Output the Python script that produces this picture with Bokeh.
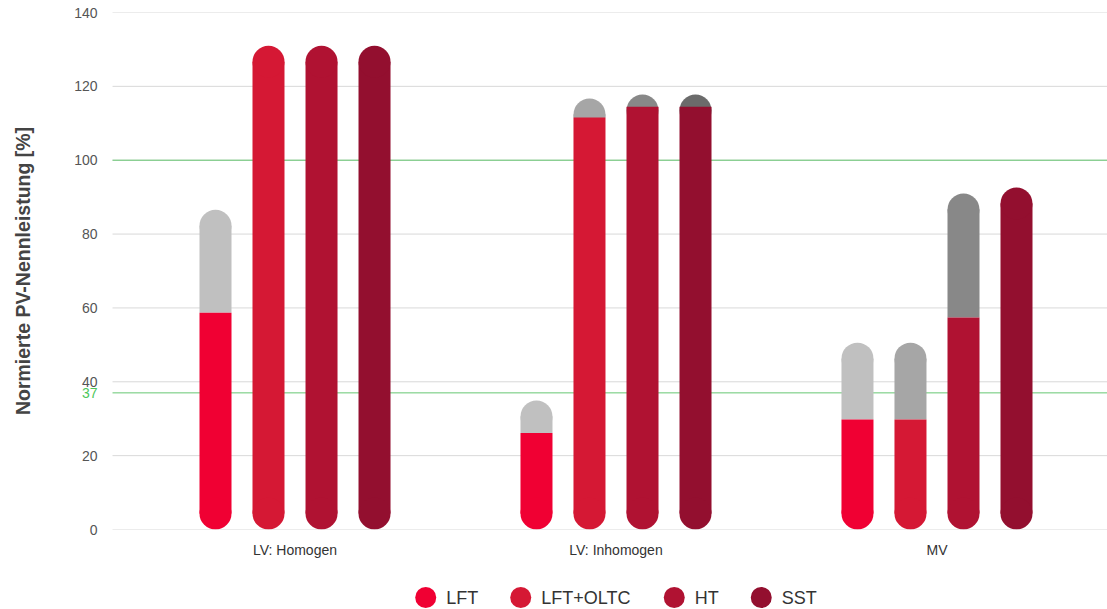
from bokeh.plotting import figure
from bokeh.layouts import column
from bokeh.models import Range1d, FixedTicker
from bokeh.core.properties import value
from bokeh.embed import file_html
from bokeh.resources import INLINE

# ---------------- data ----------------
categories = ["LV: Homogen", "LV: Inhomogen", "MV"]
series = ["LFT", "LFT+OLTC", "HT", "SST"]

# base (red) part of each column
lft = [58.7, 26.1, 29.8]
lft_oltc = [131.0, 111.6, 29.8]
ht = [131.0, 114.5, 57.4]
sst = [131.0, 114.5, 92.6]

# additional (grey) part stacked on top
lft_extra = [27.9, 8.8, 20.8]
lft_oltc_extra = [0.0, 5.1, 20.8]
ht_extra = [0.0, 3.3, 33.6]
sst_extra = [0.0, 3.3, 0.0]

y_ticks = [0, 20, 40, 60, 80, 100, 120, 140]
ref_lines = [37, 100]
ref_label = "37"

# ---------------- style ----------------
red_colors = ["#f00033", "#d51834", "#b01232", "#930f2f"]
grey_colors = ["#c0c0c0", "#a6a6a6", "#888888", "#6b6b6b"]
offsets = [-0.2477, -0.0826, 0.0826, 0.2477]
bar_w = 0.0997
cap_px = 32
W = 1107
H_MAIN, H_LEG = 560, 49
frame_top, frame_bottom = 12, 529
px_per_unit = (frame_bottom - frame_top) / 140.0
R = (cap_px / 2) / px_per_unit
FONT = "Liberation Sans"
FRAME_LEFT = 78
X_START, X_END = -0.6745, 2.5312
GRID_X0 = -0.5685
LABEL_X = -0.6153

p = figure(width=W, height=H_MAIN, output_backend="svg", toolbar_location=None,
           x_range=Range1d(X_START, X_END), y_range=Range1d(0, 140),
           min_border_left=FRAME_LEFT, min_border_right=0, min_border_top=frame_top,
           min_border_bottom=H_MAIN - frame_bottom)
p.outline_line_color = None
p.background_fill_color = "white"
p.border_fill_color = "white"
p.xgrid.visible = False
p.ygrid.visible = False

# grid lines (start at the chart's plot area, not at the label column)
p.segment(x0=[GRID_X0] * len(y_ticks), x1=[X_END] * len(y_ticks),
          y0=y_ticks, y1=y_ticks, line_color="#d9d9d9", line_width=1)
p.segment(x0=[GRID_X0] * len(ref_lines), x1=[X_END] * len(ref_lines),
          y0=ref_lines, y1=ref_lines, line_color="#66c772", line_width=1)
p.text(x=[LABEL_X], y=[ref_lines[0]], text=[ref_label], text_align="right",
       text_baseline="middle", text_color="#4cc75a", text_font=value(FONT),
       text_font_size="14px")

values = [lft, lft_oltc, ht, sst]
extras = [lft_extra, lft_oltc_extra, ht_extra, sst_extra]

for si, name in enumerate(series):
    vals = values[si]
    ext = extras[si]
    xs = [g + offsets[si] for g in range(len(categories))]
    gcx, gcy, gbx, gbb, gbt = [], [], [], [], []
    rtop = []
    rcx, rcy = [], []
    for x, v, e in zip(xs, vals, ext):
        if e > 0:
            gcx.append(x); gcy.append(v + e - R)
            if v + e - R > v:
                gbx.append(x); gbb.append(v); gbt.append(v + e - R)
            rtop.append(v)
        else:
            rtop.append(v - R)
            rcx.append(x); rcy.append(v - R)
        rcx.append(x); rcy.append(R)
    if gcx:
        p.scatter(x=gcx, y=gcy, size=cap_px, marker="circle",
                  fill_color=grey_colors[si], line_color=None)
    if gbx:
        p.vbar(x=gbx, bottom=gbb, top=gbt, width=bar_w,
               fill_color=grey_colors[si], line_color=None)
    p.vbar(x=xs, bottom=[R] * len(xs), top=rtop, width=bar_w,
           fill_color=red_colors[si], line_color=None)
    p.scatter(x=rcx, y=rcy, size=cap_px, marker="circle",
              fill_color=red_colors[si], line_color=None)

# axes
p.yaxis.ticker = FixedTicker(ticks=y_ticks)
p.yaxis.axis_line_color = None
p.yaxis.major_tick_line_color = None
p.yaxis.minor_tick_line_color = None
p.yaxis.major_tick_out = 0
p.yaxis.major_tick_in = 0
p.yaxis.major_label_standoff = -19
p.yaxis.major_label_text_font = FONT
p.yaxis.major_label_text_font_size = "14px"
p.yaxis.major_label_text_color = "#555555"
p.yaxis.axis_label = "Normierte PV-Nennleistung [%]"
p.yaxis.axis_label_text_font = FONT
p.yaxis.axis_label_text_font_style = "bold"
p.yaxis.axis_label_text_font_size = "19.5px"
p.yaxis.axis_label_text_color = "#444444"
p.yaxis.axis_label_standoff = 37

p.xaxis.ticker = FixedTicker(ticks=list(range(len(categories))))
p.xaxis.major_label_overrides = {i: c for i, c in enumerate(categories)}
p.xaxis.axis_line_color = None
p.xaxis.major_tick_line_color = None
p.xaxis.minor_tick_line_color = None
p.xaxis.major_tick_out = 0
p.xaxis.major_tick_in = 0
p.xaxis.major_label_standoff = 12
p.xaxis.major_label_text_font = FONT
p.xaxis.major_label_text_font_size = "14px"
p.xaxis.major_label_text_color = "#333333"

# ---------------- legend strip ----------------
# (column layout aligns this strip's frame with the main frame: x = page pixels)
pl = figure(width=W, height=H_LEG, output_backend="svg", toolbar_location=None,
            x_range=Range1d(FRAME_LEFT, W), y_range=Range1d(0, H_LEG),
            x_axis_location=None, y_axis_location=None,
            min_border=0, min_border_left=FRAME_LEFT, min_border_right=0,
            min_border_top=0, min_border_bottom=0)
pl.outline_line_color = None
pl.xgrid.visible = False
pl.ygrid.visible = False
pl.background_fill_color = "white"
pl.border_fill_color = "white"

# simple legend layout engine (Liberation Sans advance widths, em units)
adv = {"L": 0.556, "F": 0.611, "T": 0.611, "+": 0.584, "O": 0.778,
       "C": 0.722, "H": 0.722, "S": 0.667}
leg_font_px = 18
dot_d = 21
dot_gap = 10
item_gap = 32
leg_center_px = FRAME_LEFT + (1 - X_START) * (W - FRAME_LEFT) / (X_END - X_START)
leg_y = 12
text_w = [sum(adv.get(ch, 0.6) for ch in s) * leg_font_px for s in series]
total = sum(dot_d + dot_gap + w for w in text_w) + item_gap * (len(series) - 1)
cur = leg_center_px - total / 2
dot_x, txt_x = [], []
for w in text_w:
    dot_x.append(cur + dot_d / 2)
    txt_x.append(cur + dot_d + dot_gap)
    cur += dot_d + dot_gap + w + item_gap

pl.scatter(x=dot_x, y=[leg_y] * len(series), size=dot_d, marker="circle",
           fill_color=red_colors, line_color=None)
pl.text(x=txt_x, y=[leg_y] * len(series), text=series, text_align="left",
        text_baseline="middle", text_color="#333333", text_font=value(FONT),
        text_font_size=f"{leg_font_px}px")

layout = column(p, pl, spacing=0)
open("out.html", "w").write(file_html(layout, INLINE))
